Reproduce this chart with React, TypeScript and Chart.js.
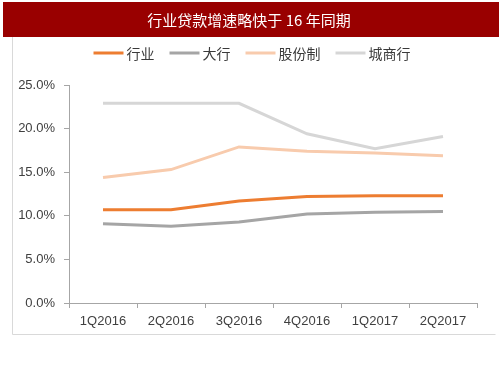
import React, { useEffect, useRef } from "react";
import { Chart, registerables } from "chart.js";

Chart.register(...registerables);

const TITLE = "行业贷款增速略快于 16 年同期";
const categories = ["1Q2016", "2Q2016", "3Q2016", "4Q2016", "1Q2017", "2Q2017"];
const seriesNames = ["行业", "大行", "股份制", "城商行"];
const industry = [10.7, 10.7, 11.7, 12.2, 12.3, 12.3];
const bigBanks = [9.1, 8.8, 9.3, 10.2, 10.4, 10.5];
const jointStock = [14.4, 15.3, 17.9, 17.4, 17.2, 16.9];
const cityBanks = [22.9, 22.9, 22.9, 19.4, 17.7, 19.1];
const seriesColors = ["#ED7D31", "#A5A5A5", "#F8CBAD", "#D6D6D6"];
const yTicks = [0, 5, 10, 15, 20, 25];

const CJK = '"Noto Sans CJK SC", "Noto Sans", sans-serif';

const framePlugin = {
  id: "frame",
  beforeDraw(chart: any) {
    const ctx = chart.ctx;
    ctx.save();
    ctx.fillStyle = "#ffffff";
    ctx.fillRect(0, 0, chart.width, chart.height);
    ctx.strokeStyle = "#D9D9D9";
    ctx.lineWidth = 1;
    ctx.beginPath();
    ctx.moveTo(12.5, 37);
    ctx.lineTo(12.5, 334.5);
    ctx.lineTo(495.5, 334.5);
    ctx.stroke();
    ctx.fillStyle = "#990000";
    ctx.fillRect(3, 2, 496, 35);
    ctx.fillStyle = "#ffffff";
    ctx.font = `15px ${CJK}`;
    ctx.textAlign = "center";
    ctx.textBaseline = "middle";
    ctx.fillText(TITLE, 249, 20);
    ctx.restore();
  },
  afterDraw(chart: any) {
    const ctx = chart.ctx;
    ctx.save();
    ctx.font = `14px ${CJK}`;
    ctx.textBaseline = "middle";
    ctx.textAlign = "left";
    const lineW = 30;
    const gap = 3;
    const itemGap = 15;
    const ds = chart.data.datasets;
    const widths = ds.map((d: any) => lineW + gap + ctx.measureText(d.label).width);
    const total = widths.reduce((a: number, b: number) => a + b, 0) + itemGap * (ds.length - 1);
    let x = 252 - total / 2;
    const y = 53;
    ds.forEach((d: any, i: number) => {
      ctx.strokeStyle = d.borderColor;
      ctx.lineWidth = 3;
      ctx.beginPath();
      ctx.moveTo(x, y);
      ctx.lineTo(x + lineW, y);
      ctx.stroke();
      ctx.fillStyle = "#3A3A3A";
      ctx.fillText(d.label, x + lineW + gap, y + 1);
      x += widths[i] + itemGap;
    });
    ctx.restore();
  },
};

export default function App() {
  const ref = useRef<HTMLCanvasElement | null>(null);
  useEffect(() => {
    if (!ref.current) return;
    const data = [industry, bigBanks, jointStock, cityBanks];
    const chart = new Chart(ref.current, {
      type: "line",
      data: {
        labels: categories,
        datasets: seriesNames.map((name, i) => ({
          label: name,
          data: data[i],
          borderColor: seriesColors[i],
          backgroundColor: seriesColors[i],
          borderWidth: 3,
          pointRadius: 0,
          tension: 0,
          fill: false,
        })),
      },
      options: {
        responsive: false,
        animation: false,
        layout: { padding: { top: 85, bottom: 45, left: 0, right: 26 } },
        plugins: { legend: { display: false }, title: { display: false }, tooltip: { enabled: false } },
        scales: {
          x: {
            type: "category",
            offset: true,
            grid: { display: true, drawOnChartArea: false, offset: true, tickLength: 5, color: "#A6A6A6" },
            border: { display: true, color: "#A6A6A6", width: 1 },
            ticks: { color: "#404040", font: { family: "Liberation Sans, Arial, sans-serif", size: 13 }, padding: 6, maxRotation: 0 },
            afterFit(scale: any) {
              scale.height = 30;
            },
          },
          y: {
            min: 0,
            max: 25,
            afterBuildTicks(scale: any) {
              scale.ticks = yTicks.map((v) => ({ value: v }));
            },
            grid: { display: true, drawOnChartArea: false, tickLength: 5, color: "#A6A6A6" },
            border: { display: true, color: "#A6A6A6", width: 1 },
            ticks: {
              color: "#404040",
              font: { family: "Liberation Sans, Arial, sans-serif", size: 13 },
              padding: 9,
              callback: (v: any) => Number(v).toFixed(1) + "%",
            },
            afterFit(scale: any) {
              scale.width = 69;
            },
          },
        },
      },
      plugins: [framePlugin],
    } as any);
    return () => chart.destroy();
  }, []);
  return (
    <div style={{ position: "absolute", left: 0, top: 0, width: 503, height: 378, background: "#fff" }}>
      <canvas ref={ref} width={503} height={378} style={{ width: 503, height: 378, display: "block" }} />
    </div>
  );
}
